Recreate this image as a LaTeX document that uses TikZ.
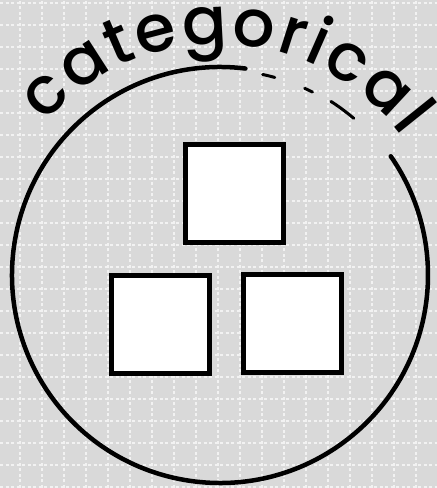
\documentclass[tikz,border=0pt]{standalone}
\usepackage{fontspec}
\setmainfont{Poppins}
\newfontfamily\handfont{Poppins Medium}
\usepackage{tikz}
\usetikzlibrary{positioning, decorations.text}
\usepackage{xcolor}
\definecolor{paper}{HTML}{D9D9D9}
\definecolor{gridwhite}{HTML}{F2F2F2}
\definecolor{inkblack}{HTML}{000000}

\begin{document}
\begin{tikzpicture}[x=1pt, y=1pt,
    gridline/.style={draw=gridwhite, line width=2pt, dash pattern=on 3pt off 2.5pt},
    ring/.style={draw=inkblack, line width=4.5pt, line cap=round},
    catbox/.style={draw=inkblack, fill=white, line width=5pt,
                   minimum width=98pt, minimum height=98pt, inner sep=0pt}]
    % background and dotted grid
    \useasboundingbox (0,0) rectangle (437,488);
    \fill[paper] (0,0) rectangle (437,488);
    \foreach \gx in {20,42,...,416}
        \draw[gridline] (\gx,0) -- (\gx,488);
    \foreach \k in {0,...,22}
        \draw[gridline] (0,{485.3-22*\k}) -- (437,{485.3-22*\k});

    % the hand drawn ring
    \coordinate (hub) at (220,213);
    \draw[ring] ([shift={(83:208)}]hub) arc[start angle=83, end angle=394.8, radius=208];
    \draw[ring, line width=3pt] ([shift={(78:205)}]hub) arc[start angle=78, end angle=74.5, radius=205];
    \draw[ring, line width=3pt] ([shift={(65.6:205)}]hub) arc[start angle=65.6, end angle=63.2, radius=205];
    \draw[ring, line width=3pt] ([shift={(57.4:206)}]hub) arc[start angle=57.4, end angle=49.5, radius=206];

    % curved title
    \coordinate (titlehub) at (218,215);
    \path[decorate, decoration={text along path, text align=fit to path,
          text={|\handfont\fontsize{66}{66}\selectfont|categorical}}]
        ([shift={(139:229)}]titlehub) arc[start angle=139, end angle=36.5, radius=229];

    % the three categories
    \node[catbox] (boxtop) at (234.5,294.5) {};
    \node[catbox] (boxleft) at (160,163.5) {};
    \node[catbox] (boxright) at (292.5,164.5) {};
\end{tikzpicture}
\end{document}
